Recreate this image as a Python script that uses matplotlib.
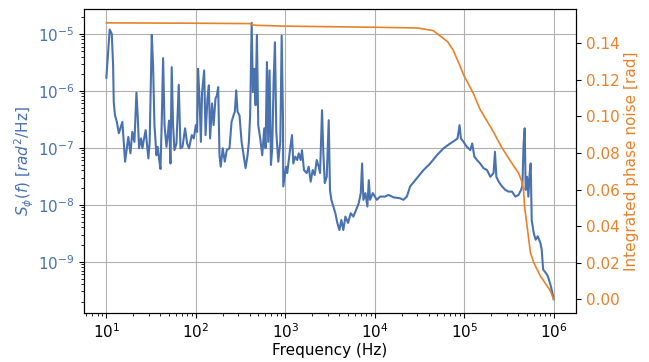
import matplotlib
matplotlib.use("Agg")
import matplotlib.pyplot as plt
import numpy as np

plt.rcParams['font.size'] = 11

# phase noise spectrum
freq = [10, 10.9, 11.5, 11.9, 12.1, 12.5, 13.1, 13.8, 15.1, 16.2, 17.6, 18.6, 19.5, 20.6,
        21.7, 22.4, 23.2, 24.4, 25.3, 26.2, 27.5, 29.5, 30.5, 32.2, 33.3, 34.5, 36.3,
        37.5, 38.8, 40.3, 41.6, 43.1, 44.7, 47, 48.6, 50.2, 52.1, 53.8, 55.7, 57.7,
        60.8, 64.5, 67.4, 71, 75.9, 80, 84, 90.2, 95, 100, 103.5,
        106, 110, 114, 117.6, 124, 128.5, 135, 140, 144.5, 152, 158, 166, 172, 178,
        184, 190, 200, 211, 222, 238, 251, 264, 273, 283, 293, 308, 325, 342, 360,
        379, 392, 405, 421, 435, 450, 466, 482, 499, 525, 553, 582, 603, 624, 645,
        668, 692, 715, 741, 767, 794, 836, 880, 912, 942,
        950, 1019, 1052, 1129, 1189, 1231, 1295, 1362, 1413, 1486, 1538, 1619, 1738,
        1828, 1925, 2027, 2133, 2248, 2366, 2449, 2577, 2667, 2763, 2908, 3062, 3162,
        3275, 3451, 3631, 3822, 4027, 4236, 4457, 4699, 5035, 5395, 5768, 6190, 6634,
        6985, 7226, 7470, 7868, 8278, 8590, 8874, 9520, 10550, 11480, 13060, 14220,
        16200, 19250, 20950, 22860, 24900, 29580, 35140, 41690, 49550, 58800, 69800,
        79400, 84300, 88800, 92000, 98400, 1.07e5, 1.12e5, 1.17e5, 1.23e5, 1.30e5,
        1.39e5, 1.51e5, 1.65e5, 1.80e5, 1.96e5, 2.13e5, 2.21e5, 2.29e5, 2.43e5,
        2.65e5, 2.89e5, 3.14e5, 3.43e5, 3.73e5, 4.06e5, 4.32e5, 4.47e5, 4.62e5,
        4.75e5, 4.87e5, 5.05e5, 5.22e5, 5.40e5, 5.54e5, 5.69e5, 5.99e5, 6.30e5,
        6.64e5, 7.12e5, 7.36e5, 7.63e5, 8.16e5, 8.60e5, 9.20e5, 9.87e5, 1e6]
psd = [1.7e-6, 1.19e-5, 1.0e-5, 2.8e-6, 6.4e-7, 3.7e-7, 2.85e-7, 1.8e-7, 2.85e-7, 5.7e-8,
       1.55e-7, 8.0e-8, 1.9e-7, 1.27e-7, 9.3e-7, 3.7e-7, 9.8e-8, 1.46e-7, 9.8e-8,
       1.36e-7, 2.04e-7, 6.5e-8, 1.27e-7, 9.6e-6, 2.8e-6, 2.5e-7, 7.4e-8, 1.04e-7,
       6.5e-8, 4.25e-8, 2.85e-7, 3.75e-6, 2.5e-7, 1.04e-7, 1.67e-7, 3.0e-7, 5.3e-8,
       2.6e-6, 2.5e-7, 9.1e-8, 1.19e-7, 1.28e-6, 9.8e-8, 1.04e-7, 2.2e-7, 1.19e-7,
       9.8e-8, 1.67e-7, 1.46e-7, 2.5e-7, 1.9e-7,
       2.44e-6, 7.3e-7, 1.27e-7, 9.5e-7, 2.28e-6, 1.67e-7, 7.3e-7, 1.25e-6, 1.46e-7,
       6.0e-7, 2.5e-7, 7.3e-7, 8.3e-7, 1.16e-6, 7.4e-8, 4.65e-8, 9.8e-8, 5.7e-8,
       9.1e-8, 9.8e-8, 2.85e-7, 3.7e-7, 4.3e-7, 1.02e-6, 4.3e-7, 3.7e-7, 1.27e-7,
       7.4e-8, 4.4e-8, 7.4e-8, 1.27e-7, 3.7e-7, 1.56e-5, 9.5e-7, 2.44e-6, 5.6e-7,
       9.6e-6, 2.5e-7, 1.46e-7, 7.4e-8, 2.2e-7, 9.8e-8, 3.2e-6, 1.27e-7, 2.28e-6,
       5.0e-8, 9.8e-8, 1.43e-6, 7.1e-6, 1.9e-7, 5.7e-8, 1.27e-7, 9.3e-6, 3.7e-7,
       2.1e-8, 4.65e-8, 3.6e-8, 9.1e-8, 1.67e-7, 5.3e-8, 7.0e-8, 6.1e-8, 8.0e-8,
       6.1e-8, 9.1e-8, 4.07e-8, 3.6e-8, 4.65e-8, 2.55e-8, 4.07e-8, 3.33e-8, 6.1e-8,
       4.65e-8, 3.6e-8, 4.56e-7, 8.0e-8, 2.4e-8, 3.1e-8, 3.05e-7, 1.82e-8, 1.22e-8,
       9.3e-9, 7.1e-9, 4.8e-9, 3.6e-9, 5.4e-9, 3.6e-9, 6.2e-9, 4.8e-9, 7.1e-9,
       6.2e-9, 8.1e-9, 1.07e-8, 1.6e-8, 5.3e-8, 1.22e-8, 1.6e-8, 9.3e-9, 2.7e-8,
       1.22e-8, 1.6e-8, 1.22e-8, 1.39e-8, 1.39e-8, 1.49e-8,
       1.35e-8, 1.3e-8, 1.22e-8, 1.39e-8, 2.1e-8, 2.92e-8, 4.07e-8, 5.3e-8, 7.4e-8,
       9.8e-8, 1.19e-7, 1.36e-7, 1.46e-7, 2.5e-7, 1.46e-7, 1.27e-7, 1.04e-7, 9.8e-8,
       9.1e-8, 1.19e-7, 7.0e-8, 6.1e-8, 5.3e-8, 4.37e-8, 4.07e-8, 3.1e-8, 3.6e-8,
       8.5e-8, 3.1e-8, 2.55e-8, 2.1e-8, 1.82e-8, 1.7e-8, 1.7e-8, 1.39e-8, 1.49e-8,
       1.82e-8, 2.1e-8, 1.19e-7, 2.2e-7, 1.82e-8, 3.1e-8, 1.39e-8, 3.6e-8, 5.3e-8,
       5.4e-9, 3.2e-9, 2.43e-9, 2.8e-9, 2.13e-9, 1.63e-9, 7.3e-10, 6.4e-10, 5.6e-10,
       4.0e-10, 2.5e-10, 2.2e-10]

# integrated phase noise (integrated from high to low frequency)
freq_int = [10, 100, 400, 450, 1000, 1e4, 3e4, 4.5e4, 5.4e4, 6.5e4, 7.5e4, 8.4e4,
            9.1e4, 9.8e4, 1.27e5, 1.5e5, 2.1e5, 2.6e5, 3.2e5, 4.05e5, 4.4e5, 4.6e5,
            4.75e5, 5.05e5, 5.5e5, 6.0e5, 7.1e5, 8.0e5, 9.2e5, 1e6]
int_noise = [0.1512, 0.1510, 0.1508, 0.1499, 0.1494, 0.1488, 0.1484, 0.1470, 0.1440,
             0.1410, 0.1365, 0.1310, 0.1270, 0.1230, 0.1125, 0.1040, 0.0920, 0.0835,
             0.0765, 0.0690, 0.0645, 0.0600, 0.0500, 0.0400, 0.0255, 0.0200, 0.0127,
             0.0090, 0.0045, 0.0]

blue = '#4a72b0'
orange = '#e8822a'

fig, ax1 = plt.subplots(figsize=(6.49, 3.62), dpi=100)
fig.subplots_adjust(left=0.1294, right=0.8875, bottom=0.1354, top=0.975)

ax1.loglog(freq, psd, color=blue, linewidth=1.5)
ax1.set_xlabel("Frequency (Hz)", labelpad=1)
ax1.set_ylabel(r"$S_\phi(f)$ [$rad^2$/Hz]", color=blue, labelpad=1)
ax1.tick_params(axis='y', labelcolor=blue)
ax1.grid(True, which='major', color='#b0b0b0', linewidth=0.8)
ax1.set_axisbelow(True)

ax2 = ax1.twinx()
ax2.plot(freq_int, int_noise, color=orange, linewidth=1.2)
ax2.set_ylabel("Integrated phase noise [rad]", color=orange, labelpad=3)
ax2.tick_params(axis='y', labelcolor=orange)
ax2.set_yticks(np.arange(0, 0.15, 0.02))

plt.savefig("out.png", dpi=100)
